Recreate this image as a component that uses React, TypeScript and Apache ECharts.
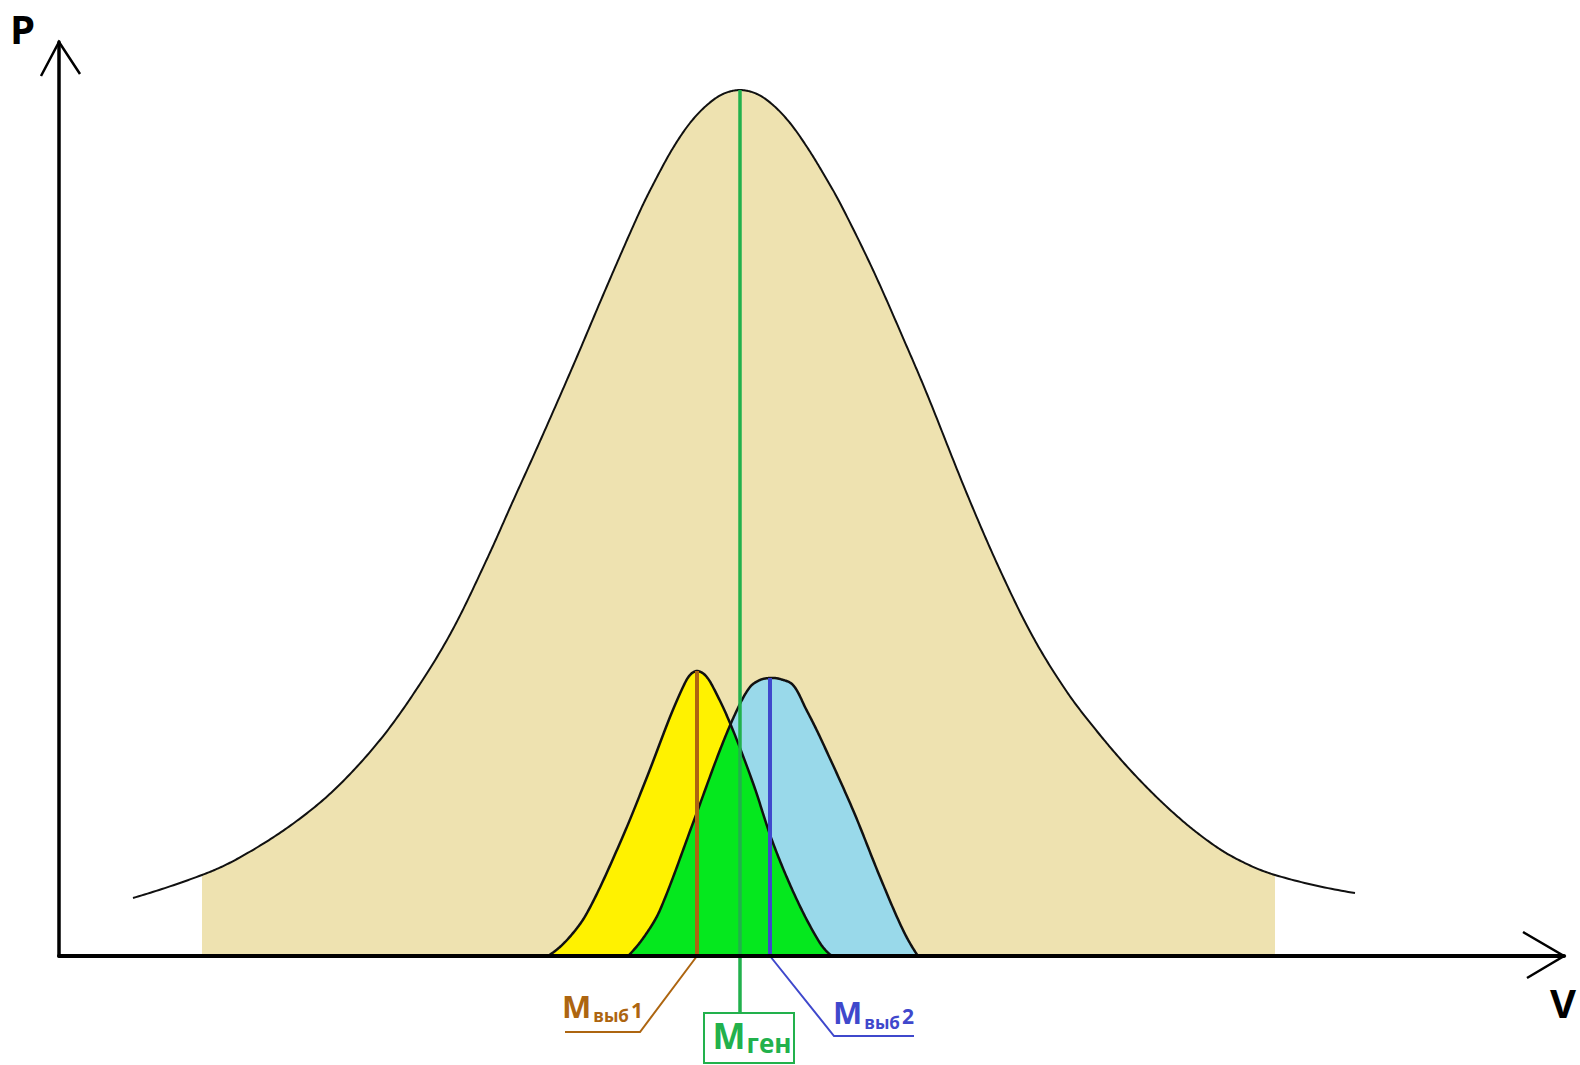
import React, { useEffect, useRef } from "react";
import * as echarts from "echarts";

// General population: value V and density P along the curve
const populationV = [74, 143, 178, 228, 274, 321, 361, 394, 428, 454, 478, 514, 548, 581, 598, 614, 631, 648, 664, 681, 698, 714, 731, 748, 764, 781, 814, 848, 868, 908, 941, 974, 1008, 1041, 1074, 1108, 1141, 1174, 1216, 1296];
const populationP = [58, 81, 97, 128, 165, 216, 272, 327, 397, 455, 508, 590, 670, 745, 779, 808, 833, 851, 862, 866, 862, 851, 833, 809, 783, 753, 686, 609, 562, 462, 386, 319, 264, 221, 183, 149, 121, 99, 81, 63];
// Shaded part of the population curve
const populationShadeFrom = 143;
const populationShadeTo = 1216;

// Sample 1
const sample1V = [489, 508, 528, 561, 588, 611, 624, 631, 638, 646, 654, 671, 694, 714, 738, 761, 773];
const sample1P = [0, 16, 43, 113, 179, 239, 269, 281, 285, 281, 269, 233, 173, 113, 56, 13, 0];

// Sample 2
const sample2V = [569, 585, 601, 634, 661, 678, 691, 701, 711, 721, 734, 747, 761, 794, 821, 844, 859];
const sample2P = [0, 19, 46, 133, 206, 246, 269, 276, 278, 277, 271, 247, 219, 146, 79, 26, 0];

// Axis ranges
const axisMaxV = 1505;
const axisMaxP = 914;

const GRID = { left: 59, right: 16, top: 42, bottom: 109 };
const FONT = "'Open Sans', 'Noto Sans', sans-serif";

const C = {
  tan: "#EEE2B0",
  yellow: "#FFF200",
  blue: "#99D9EA",
  green: "#05E81E",
  outline: "#111111",
  brown: "#AD6510",
  indigo: "#3F48CC",
  genGreen: "#22B14C",
};

const pairs = (vs: number[], ps: number[]) => vs.map((v, i) => [v, ps[i]]);
const peakOf = (vs: number[], ps: number[]) => {
  let k = 0;
  ps.forEach((p, i) => {
    if (p > ps[k]) k = i;
  });
  return [vs[k], ps[k]];
};

// Smooth curve through pixel points (chord-length Catmull-Rom), flattened to a dense polyline
function smoothLine(pts: number[][], steps = 24): number[][] {
  const n = pts.length;
  const d: number[] = [];
  for (let i = 0; i < n - 1; i++) {
    d.push(Math.hypot(pts[i + 1][0] - pts[i][0], pts[i + 1][1] - pts[i][1]) || 1e-6);
  }
  const sec = (i: number) => [(pts[i + 1][0] - pts[i][0]) / d[i], (pts[i + 1][1] - pts[i][1]) / d[i]];
  const m: number[][] = new Array(n);
  for (let i = 1; i < n - 1; i++) {
    const s = d[i - 1] + d[i];
    m[i] = [(pts[i + 1][0] - pts[i - 1][0]) / s, (pts[i + 1][1] - pts[i - 1][1]) / s];
  }
  if (n === 2) {
    m[0] = sec(0);
    m[1] = sec(0);
  } else {
    const s0 = sec(0);
    const sl = sec(n - 2);
    m[0] = [2 * s0[0] - m[1][0], 2 * s0[1] - m[1][1]];
    m[n - 1] = [2 * sl[0] - m[n - 2][0], 2 * sl[1] - m[n - 2][1]];
  }
  const out: number[][] = [pts[0]];
  for (let i = 0; i < n - 1; i++) {
    const a = pts[i];
    const b = pts[i + 1];
    const L = d[i] / 3;
    const c1 = [a[0] + m[i][0] * L, a[1] + m[i][1] * L];
    const c2 = [b[0] - m[i + 1][0] * L, b[1] - m[i + 1][1] * L];
    for (let k = 1; k <= steps; k++) {
      const t = k / steps;
      const u = 1 - t;
      out.push([
        u * u * u * a[0] + 3 * u * u * t * c1[0] + 3 * u * t * t * c2[0] + t * t * t * b[0],
        u * u * u * a[1] + 3 * u * u * t * c1[1] + 3 * u * t * t * c2[1] + t * t * t * b[1],
      ]);
    }
  }
  return out;
}

// Pixel y of a flattened curve at pixel x (baseline outside its span)
function yAt(line: number[][], x: number, base: number): number {
  if (x <= line[0][0] || x >= line[line.length - 1][0]) return base;
  for (let i = 1; i < line.length; i++) {
    if (line[i][0] >= x) {
      const [x0, y0] = line[i - 1];
      const [x1, y1] = line[i];
      const t = x1 === x0 ? 0 : (x - x0) / (x1 - x0);
      return y0 + (y1 - y0) * t;
    }
  }
  return base;
}

export default function App() {
  const ref = useRef<HTMLDivElement>(null);

  useEffect(() => {
    if (!ref.current) return;
    const chart = echarts.init(ref.current, null, { renderer: "svg" });

    const population = pairs(populationV, populationP);
    const sample1 = pairs(sample1V, sample1P);
    const sample2 = pairs(sample2V, sample2P);

    const [m1V, m1P] = peakOf(sample1V, sample1P);
    const [m2V, m2P] = peakOf(sample2V, sample2P);
    const [genV, genP] = peakOf(populationV, populationP);

    // Leader lines below the axis to the labels
    const lead1 = [[m1V, 0], [m1V - 57, -76], [m1V - 132, -76]];
    const lead2 = [[m2V, 0], [m2V + 64, -80], [m2V + 144, -80]];
    const genBoxTop = -57;

    // A custom series that draws one whole curve shape from its data points
    const curveSeries = (
      data: number[][],
      z: number,
      build: (api: any) => any
    ) => ({
      type: "custom",
      coordinateSystem: "cartesian2d",
      data,
      encode: { x: 0, y: 1 },
      silent: true,
      clip: false,
      z,
      renderItem: (params: any, api: any) => (params.dataIndex === 0 ? build(api) : null),
    });

    const toPx = (api: any, pts: number[][]) => pts.map((p) => api.coord(p) as number[]);
    const areaShape = (line: number[][], base: number, fill: string) => ({
      type: "polygon",
      shape: { points: [...line, [line[line.length - 1][0], base], [line[0][0], base]] },
      style: { fill, stroke: null },
    });
    const outlineShape = (line: number[][], width: number) => ({
      type: "polyline",
      shape: { points: line },
      style: { fill: null, stroke: C.outline, lineWidth: width, lineJoin: "round" },
    });

    const guide = (data: number[][], color: string, width: number) => ({
      type: "line",
      data,
      symbol: "none",
      silent: true,
      clip: false,
      lineStyle: { color, width, cap: "butt", join: "miter" },
      z: 6,
    });

    chart.setOption({
      animation: false,
      backgroundColor: "#ffffff",
      grid: { ...GRID, outerBoundsMode: "none" },
      xAxis: {
        type: "value",
        min: 0,
        max: axisMaxV,
        z: 10,
        axisLine: { show: true, onZero: true, lineStyle: { color: "#000", width: 4 } },
        axisTick: { show: false },
        axisLabel: { show: false },
        splitLine: { show: false },
      },
      yAxis: {
        type: "value",
        min: 0,
        max: axisMaxP,
        z: 10,
        axisLine: { show: true, lineStyle: { color: "#000", width: 3.5 } },
        axisTick: { show: false },
        axisLabel: { show: false },
        splitLine: { show: false },
      },
      series: [
        // population: shaded band and full outline
        curveSeries(population, 1, (api) => {
          const base = api.coord([0, 0])[1];
          const line = smoothLine(toPx(api, population));
          const from = api.coord([populationShadeFrom, 0])[0];
          const to = api.coord([populationShadeTo, 0])[0];
          const shade = line.filter(([x]) => x >= from && x <= to);
          return {
            type: "group",
            children: [
              { ...areaShape(shade, base, C.tan), z2: 0 },
              { ...outlineShape(line, 2), z2: 100 },
            ],
          };
        }),
        // both samples with their overlap
        curveSeries(sample1, 2, (api) => {
          const base = api.coord([0, 0])[1];
          const s1 = smoothLine(toPx(api, sample1));
          const s2 = smoothLine(toPx(api, sample2));
          const p1 = api.coord([m1V, m1P])[0];
          const p2 = api.coord([m2V, m2P])[0];
          // crossing of the falling side of sample 1 and the rising side of sample 2
          let xc = (p1 + p2) / 2;
          for (let x = p1; x <= p2; x += 0.25) {
            if (yAt(s1, x, base) >= yAt(s2, x, base)) {
              xc = x;
              break;
            }
          }
          const overlap = [
            ...s2.filter(([x]) => x < xc),
            [xc, yAt(s1, xc, base)],
            ...s1.filter(([x]) => x > xc),
          ];
          return {
            type: "group",
            children: [
              { ...areaShape(s1, base, C.yellow), z2: 1 },
              { ...areaShape(s2, base, C.blue), z2: 2 },
              { ...areaShape(overlap, base, C.green), z2: 3 },
              { ...outlineShape(s1, 2.5), z2: 4 },
              { ...outlineShape(s2, 2.5), z2: 5 },
            ],
          };
        }),
        guide([[genV, genP], [genV, genBoxTop]], C.genGreen, 3.5),
        guide([[m1V, m1P], [m1V, 0]], C.brown, 4),
        guide(lead1, C.brown, 2),
        guide([[m2V, m2P], [m2V, 0]], C.indigo, 4),
        guide(lead2, C.indigo, 2),
      ],
    });

    const px = (v: number, p: number) =>
      chart.convertToPixel({ gridIndex: 0 }, [v, p]) as number[];

    const origin = px(0, 0);
    const yTip = px(0, axisMaxP);
    const xTip = px(axisMaxV, 0);
    const l1 = px(lead1[2][0], lead1[2][1]);
    const l2 = px(lead2[1][0], lead2[1][1]);
    const gBox = px(genV, genBoxTop);

    const sampleLabel = (x: number, y: number, n: string, color: string) => ({
      type: "text",
      x,
      y,
      silent: true,
      style: {
        text: `{m|M}{s|выб}{n|${n}}`,
        align: "left",
        verticalAlign: "top",
        fill: color,
        rich: {
          m: { fontFamily: FONT, fontWeight: "bold", fontSize: 31, lineHeight: 31, fill: color, padding: [0, 1, 9, 0] },
          s: { fontFamily: FONT, fontWeight: "bold", fontSize: 17, lineHeight: 17, fill: color, padding: [17, 2, 6, 1] },
          n: { fontFamily: FONT, fontWeight: "bold", fontSize: 21, lineHeight: 21, fill: color, padding: [9, 0, 10, 0] },
        },
      },
    });

    chart.setOption({
      graphic: [
        {
          type: "polyline",
          silent: true,
          shape: { points: [[yTip[0] - 18, yTip[1] + 34], [yTip[0], yTip[1]], [yTip[0] + 21, yTip[1] + 32]] },
          style: { stroke: "#000", lineWidth: 2.5, fill: "none" },
        },
        {
          type: "polyline",
          silent: true,
          shape: { points: [[xTip[0] - 41, xTip[1] - 24], [xTip[0], xTip[1]], [xTip[0] - 37, xTip[1] + 22]] },
          style: { stroke: "#000", lineWidth: 2.5, fill: "none" },
        },
        {
          type: "text",
          silent: true,
          x: origin[0] - 49,
          y: yTip[1] - 14,
          style: { text: "P", fontFamily: FONT, fontWeight: "bold", fontSize: 40, fill: "#000", align: "left", verticalAlign: "middle" },
        },
        {
          type: "text",
          silent: true,
          x: xTip[0] - 14,
          y: origin[1] + 46,
          style: { text: "V", fontFamily: FONT, fontWeight: "bold", fontSize: 40, fill: "#000", align: "left", verticalAlign: "middle" },
        },
        sampleLabel(l1[0] - 3, l1[1] - 37.5, "1", C.brown),
        sampleLabel(l2[0] - 1, l2[1] - 35, "2", C.indigo),
        {
          type: "rect",
          silent: true,
          shape: { x: gBox[0] - 36, y: gBox[1], width: 90, height: 50 },
          style: { stroke: C.genGreen, lineWidth: 2, fill: "#ffffff" },
        },
        {
          type: "text",
          silent: true,
          x: gBox[0] + 12,
          y: gBox[1] + 8,
          style: {
            text: "{m|M}{s|ген}",
            align: "center",
            verticalAlign: "top",
            fill: C.genGreen,
            rich: {
              m: { fontFamily: FONT, fontWeight: "bold", fontSize: 35, lineHeight: 35, fill: C.genGreen, padding: [0, 1, 7, 0] },
              s: { fontFamily: FONT, fontWeight: "bold", fontSize: 26, lineHeight: 26, fill: C.genGreen, padding: [12, 0, 4, 0] },
            },
          },
        },
      ],
    });

    return () => chart.dispose();
  }, []);

  return (
    <div
      ref={ref}
      style={{ position: "fixed", left: 0, top: 0, width: 1580, height: 1065, background: "#fff" }}
    />
  );
}
